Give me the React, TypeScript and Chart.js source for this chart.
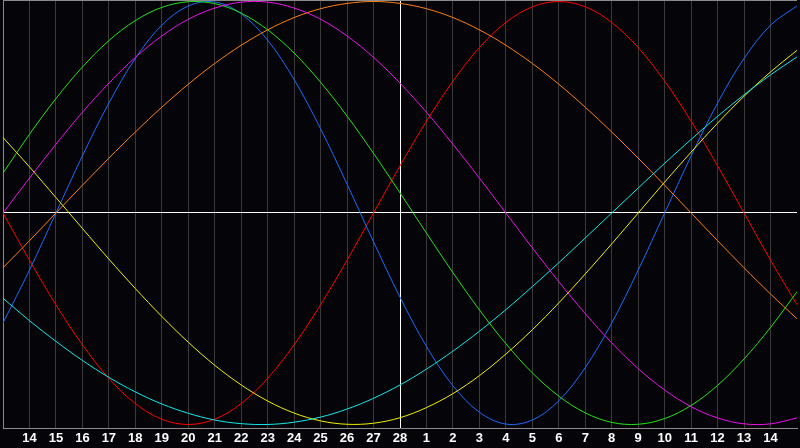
import React, { useEffect, useRef } from "react";
import { Chart, registerables } from "chart.js";

Chart.register(...registerables);

const dayLabels = [
  "13", "14", "15", "16", "17", "18", "19", "20", "21", "22", "23", "24", "25", "26", "27", "28",
  "1", "2", "3", "4", "5", "6", "7", "8", "9", "10", "11", "12", "13", "14", "15",
];

const todayIndex = 15;

const physical = [-0.520, -0.270, 0, 0.270, 0.520, 0.731, 0.888, 0.979, 0.998, 0.942, 0.817, 0.631, 0.398, 0.136, -0.136, -0.398, -0.631, -0.817, -0.942, -0.998, -0.979, -0.888, -0.731, -0.520, -0.270, 0, 0.270, 0.520, 0.731, 0.888, 0.979];
const emotional = [0, -0.223, -0.434, -0.623, -0.782, -0.901, -0.975, -1, -0.975, -0.901, -0.782, -0.623, -0.434, -0.223, 0, 0.223, 0.434, 0.623, 0.782, 0.901, 0.975, 1, 0.975, 0.901, 0.782, 0.623, 0.434, 0.223, 0, -0.223, -0.434];
const intellectual = [0.189, 0.372, 0.541, 0.690, 0.815, 0.910, 0.972, 0.999, 0.990, 0.945, 0.866, 0.756, 0.618, 0.458, 0.282, 0.095, -0.095, -0.282, -0.458, -0.618, -0.756, -0.866, -0.945, -0.990, -0.999, -0.972, -0.910, -0.815, -0.690, -0.541, -0.372];
const intuitive = [0, 0.165, 0.325, 0.476, 0.614, 0.736, 0.837, 0.916, 0.969, 0.997, 0.997, 0.969, 0.916, 0.837, 0.736, 0.614, 0.476, 0.325, 0.165, 0, -0.165, -0.325, -0.476, -0.614, -0.736, -0.837, -0.916, -0.969, -0.997, -0.997, -0.969];
const aesthetic = [0.357, 0.218, 0.073, -0.073, -0.218, -0.357, -0.489, -0.611, -0.720, -0.813, -0.889, -0.946, -0.983, -0.999, -0.994, -0.968, -0.920, -0.854, -0.769, -0.667, -0.552, -0.425, -0.288, -0.146, 0, 0.146, 0.288, 0.425, 0.552, 0.667, 0.769];
const awareness = [-0.259, -0.131, 0, 0.131, 0.259, 0.383, 0.5, 0.609, 0.707, 0.793, 0.866, 0.924, 0.966, 0.991, 1, 0.991, 0.966, 0.924, 0.866, 0.793, 0.707, 0.609, 0.5, 0.383, 0.259, 0.131, 0, -0.131, -0.259, -0.383, -0.5];
const spiritual = [-0.403, -0.509, -0.607, -0.697, -0.777, -0.846, -0.903, -0.947, -0.979, -0.996, -1.0, -0.989, -0.965, -0.927, -0.876, -0.813, -0.738, -0.653, -0.559, -0.457, -0.348, -0.235, -0.118, 0, 0.118, 0.235, 0.348, 0.457, 0.559, 0.653, 0.738];

const seriesList = [
  { name: "Intuitive", data: intuitive, color: "#ee11ee" },
  { name: "Awareness", data: awareness, color: "#ff8010" },
  { name: "Spiritual", data: spiritual, color: "#10e8e8" },
  { name: "Aesthetic", data: aesthetic, color: "#f0f000" },
  { name: "Intellectual", data: intellectual, color: "#22e61a" },
  { name: "Physical", data: physical, color: "#1a6cff" },
  { name: "Emotional", data: emotional, color: "#ff0000" },
];

const topBorder = {
  id: "topBorder",
  beforeDatasetsDraw(chart: any) {
    const { ctx, chartArea } = chart;
    ctx.save();
    ctx.strokeStyle = "#8a8a8a";
    ctx.lineWidth = 1;
    ctx.beginPath();
    ctx.moveTo(chartArea.left, chartArea.top + 0.5);
    ctx.lineTo(chartArea.right, chartArea.top + 0.5);
    ctx.stroke();
    ctx.restore();
  },
};

export default function App() {
  const ref = useRef<HTMLCanvasElement | null>(null);

  useEffect(() => {
    if (!ref.current) return;
    const chart = new Chart(ref.current, {
      type: "line",
      data: {
        labels: dayLabels,
        datasets: seriesList.map((s) => ({
          label: s.name,
          data: s.data,
          borderColor: s.color,
          borderWidth: 1,
          pointRadius: 0,
          tension: 0.35,
          fill: false,
        })),
      },
      options: {
        animation: false,
        responsive: false,
        devicePixelRatio: 1,
        layout: { padding: 0 },
        plugins: {
          legend: { display: false },
          tooltip: { enabled: false },
        },
        scales: {
          x: {
            type: "category",
            offset: false,
            grid: {
              drawTicks: false,
              lineWidth: 1,
              color: (c: any) => {
                if (c.index === todayIndex) return "#ffffff";
                if (c.index === 0) return "#8a8a8a";
                if (c.index === dayLabels.length - 1) return "rgba(0,0,0,0)";
                return "#3a3a3a";
              },
            },
            border: { display: true, color: "#8a8a8a", width: 1 },
            ticks: {
              autoSkip: false,
              maxRotation: 0,
              padding: 3,
              color: "#ffffff",
              font: { family: "'Liberation Sans', Arial, sans-serif", size: 13, weight: "bold" },
              callback: (_v: any, i: number) =>
                i === 0 || i === dayLabels.length - 1 ? "" : dayLabels[i],
            },
            afterFit: (scale: any) => {
              scale.height = 20;
            },
          },
          y: {
            min: -1.0166,
            max: 1.0071,
            ticks: { display: false, stepSize: 0.5 },
            grid: {
              drawTicks: false,
              color: (c: any) =>
                c.tick && Math.abs(c.tick.value) < 1e-9 ? "#ffffff" : "rgba(0,0,0,0)",
            },
            border: { display: true, color: "#8a8a8a", width: 1 },
          },
        },
      },
      plugins: [topBorder],
    });
    return () => chart.destroy();
  }, []);

  return (
    <div
      style={{
        position: "fixed",
        left: 0,
        top: 0,
        width: 800,
        height: 448,
        background: "#050509",
      }}
    >
      <canvas ref={ref} width={800} height={448} style={{ display: "block" }} />
    </div>
  );
}
